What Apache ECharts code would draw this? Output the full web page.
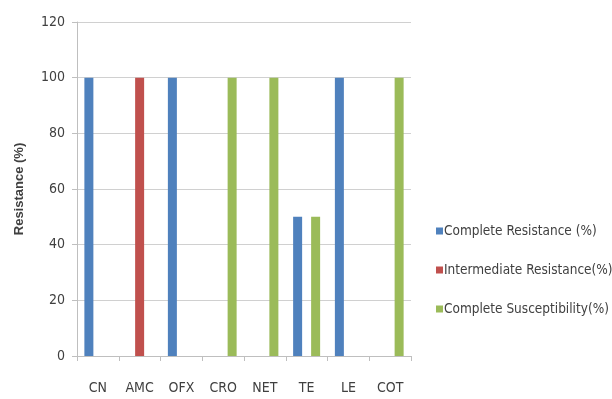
<!DOCTYPE html>
<html>
<head>
<meta charset="utf-8">
<script src="https://cdn.jsdelivr.net/npm/echarts@6/dist/echarts.min.js"></script>
<style>
  html, body { margin: 0; padding: 0; background: #fff; }
  #chart { width: 612px; height: 399px; }
</style>
</head>
<body>
<div id="chart"></div>
<script>
// Antibiotic resistance profile per drug
const categories = ['CN', 'AMC', 'OFX', 'CRO', 'NET', 'TE', 'LE', 'COT'];
const completeResistance = [100, 0, 100, 0, 0, 50, 100, 0];
const intermediateResistance = [0, 100, 0, 0, 0, 0, 0, 0];
const completeSusceptibility = [0, 0, 0, 100, 100, 50, 0, 100];
const seriesNames = ['Complete Resistance (%)', 'Intermediate Resistance(%)', 'Complete Susceptibility(%)'];
const yTicks = { min: 0, max: 120, interval: 20 };

const font = '"Liberation Sans Narrow", "DejaVu Sans Condensed", "Liberation Sans", sans-serif';
const colors = ['#4F81BD', '#C0504D', '#9BBB59'];

const chart = echarts.init(document.getElementById('chart'), null, { renderer: 'canvas' });

function bar(name, data, color) {
  return {
    name: name,
    type: 'bar',
    data: data,
    barWidth: 9,
    barGap: '0%',
    itemStyle: { color: color },
    emphasis: { disabled: true }
  };
}

chart.setOption({
  animation: false,
  backgroundColor: '#ffffff',
  grid: { left: 77, top: 22, right: 201, bottom: 43, containLabel: false },
  legend: {
    orient: 'vertical',
    left: 431,
    top: 219,
    itemWidth: 7,
    itemHeight: 7,
    itemGap: 25,
    icon: 'rect',
    textStyle: { fontFamily: font, fontSize: 13.5, color: '#404040', padding: [0, 0, 0, -4] },
    data: seriesNames
  },
  xAxis: {
    type: 'category',
    data: categories,
    axisLine: { lineStyle: { color: '#bfbfbf' } },
    axisTick: { show: true, length: 5, lineStyle: { color: '#bfbfbf' } },
    axisLabel: { fontFamily: font, fontSize: 14, color: '#404040', margin: 25 }
  },
  yAxis: {
    type: 'value',
    min: yTicks.min,
    max: yTicks.max,
    interval: yTicks.interval,
    name: 'Resistance (%)',
    nameLocation: 'middle',
    nameGap: 51,
    nameTextStyle: { fontFamily: '"Liberation Sans", sans-serif', fontSize: 13, fontWeight: 'bold', color: '#404040' },
    axisLine: { show: true, lineStyle: { color: '#bfbfbf' } },
    axisTick: { show: true, length: 5, lineStyle: { color: '#bfbfbf' } },
    axisLabel: { fontFamily: font, fontSize: 14, color: '#404040', margin: 12 },
    splitLine: { lineStyle: { color: '#d0d0d0', width: 1 } }
  },
  series: [
    bar(seriesNames[0], completeResistance, colors[0]),
    bar(seriesNames[1], intermediateResistance, colors[1]),
    bar(seriesNames[2], completeSusceptibility, colors[2])
  ]
});
</script>
</body>
</html>
